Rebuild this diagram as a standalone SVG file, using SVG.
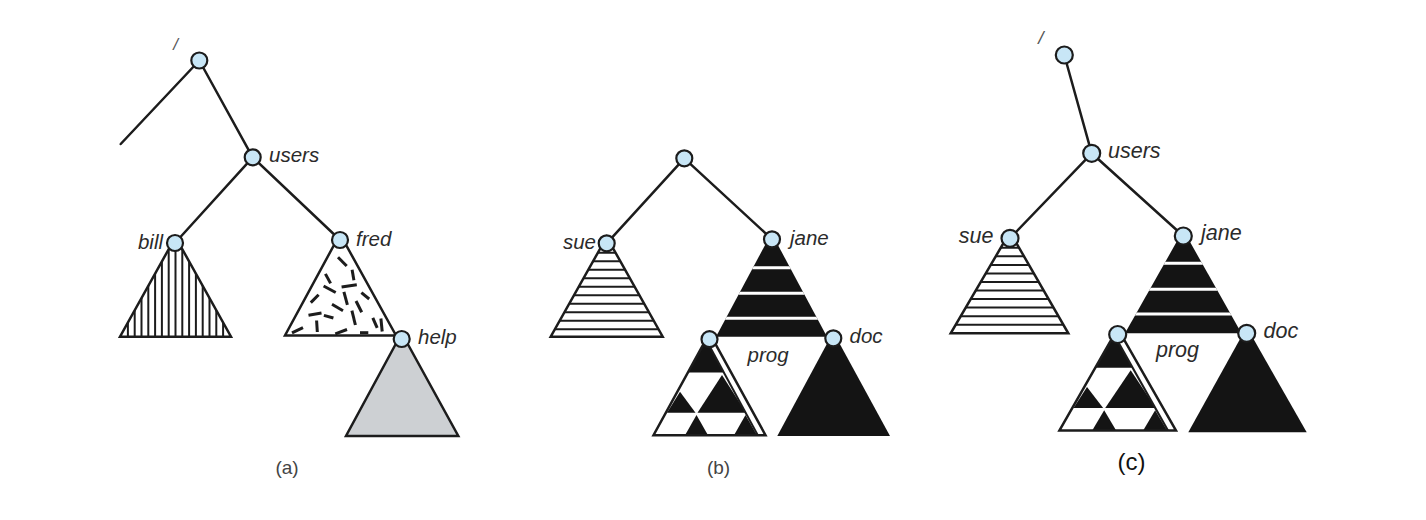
<svg xmlns="http://www.w3.org/2000/svg" xmlns:xlink="http://www.w3.org/1999/xlink" width="1426" height="520" viewBox="0 0 1426 520">
<style>
.edge{stroke:#1c1c1c;stroke-width:2.5;fill:none;stroke-linecap:round}
.tri{stroke:#1c1c1c;stroke-width:2.5;stroke-linejoin:miter}
.hatch{stroke:#1c1c1c;stroke-width:2}
.dash{stroke:#1c1c1c;stroke-width:3;stroke-linecap:butt}
.band{stroke:#ffffff;stroke-width:3}
.blk{fill:#141414}
.node{fill:#c8e6f6;stroke:#1c1c1c;stroke-width:2.2}
.lbl{font-family:"Liberation Sans",Arial,Helvetica,sans-serif;font-style:italic;font-size:20.5px;fill:#2b2b2b}
.lblc{font-family:"Liberation Sans",Arial,Helvetica,sans-serif;font-style:italic;font-size:21.5px;fill:#2b2b2b}
.cap{font-family:"Liberation Sans",Arial,Helvetica,sans-serif;font-size:19px;fill:#444444;text-anchor:middle}
.slash{font-family:"Liberation Sans",Arial,Helvetica,sans-serif;font-style:italic;fill:#555555;text-anchor:middle}
</style>
<defs>
<clipPath id="clipBill"><polygon points="175.5,237 120,336.7 231,336.7"/></clipPath>
<clipPath id="clipSueB"><polygon points="606.7,237 550.7,336.7 662.7,336.7"/></clipPath>
<clipPath id="clipSueC"><polygon points="1010,232 950.7,333.3 1068.3,333.3"/></clipPath>
<clipPath id="clipJaneB"><polygon points="771.5,233 716,336.7 827,336.7"/></clipPath>
<clipPath id="clipJaneC"><polygon points="1183.3,230 1125,333.3 1241.5,333.3"/></clipPath>
<g id="progTree">
<polygon points="0,-6 -56,96 56,96" fill="#ffffff"/>
<polygon class="blk" points="-3.5,0.4 -21.6,33.3 14.6,33.3"/>
<polygon class="blk" points="12.5,35.7 -12,73.5 36.6,73.5"/>
<polygon class="blk" points="-29.5,52.5 -42.5,73.5 -14,73.5"/>
<polygon class="blk" points="-13,75.7 -24.5,96 -1.5,96"/>
<polygon class="blk" points="36,75.7 24.5,96 47.5,96"/>
<line x1="-2" y1="3" x2="48.3" y2="96" stroke="#1c1c1c" stroke-width="2"/>
<polygon class="tri" points="0,-6 -56,96 56,96" fill="none"/>
</g>
</defs>
<rect width="1426" height="520" fill="#ffffff"/>

<g id="connectors">
<line class="edge" x1="199.3" y1="60.5" x2="120.7" y2="144"/>
<line class="edge" x1="199.3" y1="60.5" x2="252.7" y2="157.3"/>
<line class="edge" x1="252.7" y1="157.3" x2="175" y2="243"/>
<line class="edge" x1="252.7" y1="157.3" x2="340" y2="240"/>
<line class="edge" x1="684.3" y1="158.3" x2="606.7" y2="243.3"/>
<line class="edge" x1="684.3" y1="158.3" x2="772" y2="239.3"/>
<line class="edge" x1="1064.3" y1="55" x2="1091.7" y2="153.3"/>
<line class="edge" x1="1091.7" y1="153.3" x2="1010" y2="238.3"/>
<line class="edge" x1="1091.7" y1="153.3" x2="1183.3" y2="236"/>
</g>

<!-- (a) -->
<g id="a-root">
<text class="slash" x="175.5" y="50" font-size="17">/</text>
<circle class="node" cx="199.3" cy="60.5" r="8"/>
</g>
<g id="a-users">
<circle class="node" cx="252.7" cy="157.3" r="8"/>
<text class="lbl" x="269" y="162">users</text>
</g>
<g id="a-bill">
<polygon class="tri" points="175.5,237 120,336.7 231,336.7" fill="#ffffff"/>
<g clip-path="url(#clipBill)">
<line class="hatch" x1="127.9" y1="230" x2="127.9" y2="340"/>
<line class="hatch" x1="134.7" y1="230" x2="134.7" y2="340"/>
<line class="hatch" x1="141.5" y1="230" x2="141.5" y2="340"/>
<line class="hatch" x1="148.3" y1="230" x2="148.3" y2="340"/>
<line class="hatch" x1="155.1" y1="230" x2="155.1" y2="340"/>
<line class="hatch" x1="161.9" y1="230" x2="161.9" y2="340"/>
<line class="hatch" x1="168.7" y1="230" x2="168.7" y2="340"/>
<line class="hatch" x1="175.5" y1="230" x2="175.5" y2="340"/>
<line class="hatch" x1="182.3" y1="230" x2="182.3" y2="340"/>
<line class="hatch" x1="189.1" y1="230" x2="189.1" y2="340"/>
<line class="hatch" x1="195.9" y1="230" x2="195.9" y2="340"/>
<line class="hatch" x1="202.7" y1="230" x2="202.7" y2="340"/>
<line class="hatch" x1="209.5" y1="230" x2="209.5" y2="340"/>
<line class="hatch" x1="216.3" y1="230" x2="216.3" y2="340"/>
<line class="hatch" x1="223.1" y1="230" x2="223.1" y2="340"/>
</g>
<circle class="node" cx="175" cy="243" r="8"/>
<text class="lbl" x="163" y="249" text-anchor="end">bill</text>
</g>
<g id="a-fred">
<polygon class="tri" points="340,234 285,335.5 396,335.5" fill="#ffffff"/>
<g transform="translate(341,240)">
<line class="dash" x1="-3" y1="17.3" x2="5.7" y2="26"/>
<line class="dash" x1="11.1" y1="29.8" x2="12.9" y2="40.2"/>
<line class="dash" x1="-15.6" y1="33.9" x2="-10.4" y2="43.4"/>
<line class="dash" x1="-17.4" y1="46" x2="-5.3" y2="52.5"/>
<line class="dash" x1="0.6" y1="47" x2="15.8" y2="44.8"/>
<line class="dash" x1="20.4" y1="52.6" x2="28.2" y2="59"/>
<line class="dash" x1="2.9" y1="51.8" x2="6.4" y2="64.8"/>
<line class="dash" x1="-22.4" y1="54.8" x2="-30.2" y2="62.6"/>
<line class="dash" x1="-9" y1="64.3" x2="2" y2="70.8"/>
<line class="dash" x1="15" y1="61" x2="20.7" y2="72.3"/>
<line class="dash" x1="-32.5" y1="75.3" x2="-19.5" y2="73"/>
<line class="dash" x1="-17.1" y1="75.4" x2="-7.6" y2="78"/>
<line class="dash" x1="10.9" y1="70.7" x2="14.4" y2="85"/>
<line class="dash" x1="31.8" y1="77.9" x2="36.2" y2="87.9"/>
<line class="dash" x1="-24.4" y1="80.5" x2="-23.7" y2="92"/>
<line class="dash" x1="-49" y1="92.9" x2="-38" y2="87.7"/>
<line class="dash" x1="-5.7" y1="93.8" x2="6" y2="89.5"/>
<line class="dash" x1="19" y1="92.7" x2="27.3" y2="92.7" stroke-width="3.8"/>
<line class="dash" x1="39.9" y1="78.5" x2="41.2" y2="91.5"/>
</g>
<circle class="node" cx="340" cy="240" r="8"/>
<text class="lbl" x="356" y="245.5">fred</text>
</g>
<g id="a-help">
<polygon class="tri" points="401.7,333 346,436 458.3,436" fill="#cdd0d3"/>
<circle class="node" cx="401.7" cy="339" r="8"/>
<text class="lbl" x="418" y="344">help</text>
</g>
<text class="cap" x="287" y="474">(a)</text>

<!-- (b) -->
<g id="b-root">
<circle class="node" cx="684.3" cy="158.3" r="8"/>
</g>
<g id="b-sue">
<polygon class="tri" points="606.7,237 550.7,336.7 662.7,336.7" fill="#ffffff"/>
<g clip-path="url(#clipSueB)">
<line class="hatch" x1="545" y1="252.7" x2="670" y2="252.7"/>
<line class="hatch" x1="545" y1="261.2" x2="670" y2="261.2"/>
<line class="hatch" x1="545" y1="269.7" x2="670" y2="269.7"/>
<line class="hatch" x1="545" y1="278.2" x2="670" y2="278.2"/>
<line class="hatch" x1="545" y1="286.7" x2="670" y2="286.7"/>
<line class="hatch" x1="545" y1="295.2" x2="670" y2="295.2"/>
<line class="hatch" x1="545" y1="303.7" x2="670" y2="303.7"/>
<line class="hatch" x1="545" y1="312.2" x2="670" y2="312.2"/>
<line class="hatch" x1="545" y1="320.7" x2="670" y2="320.7"/>
<line class="hatch" x1="545" y1="329.2" x2="670" y2="329.2"/>
</g>
<circle class="node" cx="606.7" cy="243.3" r="8"/>
<text class="lbl" x="596" y="248.5" text-anchor="end">sue</text>
</g>
<g id="b-jane">
<polygon class="blk" points="771.5,233 716,336.7 827,336.7"/>
<g clip-path="url(#clipJaneB)">
<line class="band" x1="700" y1="267.7" x2="840" y2="267.7"/>
<line class="band" x1="700" y1="293.3" x2="840" y2="293.3"/>
<line class="band" x1="700" y1="318.3" x2="840" y2="318.3"/>
</g>
<circle class="node" cx="772" cy="239.3" r="8"/>
<text class="lbl" x="790" y="244.5">jane</text>
</g>
<g id="b-prog">
<use xlink:href="#progTree" transform="translate(709.5,339.2)"/>
<circle class="node" cx="709.5" cy="339.2" r="8"/>
<text class="lbl" x="747.5" y="361.7">prog</text>
</g>
<g id="b-doc">
<polygon class="blk" points="833.3,332 777.3,436 890,436"/>
<circle class="node" cx="833.3" cy="338.3" r="8"/>
<text class="lbl" x="849.5" y="343.3">doc</text>
</g>
<text class="cap" x="718.5" y="474">(b)</text>

<!-- (c) -->
<g id="c-root">
<text class="slash" x="1040.8" y="44" font-size="19">/</text>
<circle class="node" cx="1064.3" cy="55" r="8.5"/>
</g>
<g id="c-users">
<circle class="node" cx="1091.7" cy="153.3" r="8.5"/>
<text class="lblc" x="1108" y="157.5">users</text>
</g>
<g id="c-sue">
<polygon class="tri" points="1010,232 950.7,333.3 1068.3,333.3" fill="#ffffff"/>
<g clip-path="url(#clipSueC)">
<line class="hatch" x1="945" y1="247.8" x2="1075" y2="247.8"/>
<line class="hatch" x1="945" y1="256.3" x2="1075" y2="256.3"/>
<line class="hatch" x1="945" y1="264.9" x2="1075" y2="264.9"/>
<line class="hatch" x1="945" y1="273.4" x2="1075" y2="273.4"/>
<line class="hatch" x1="945" y1="282" x2="1075" y2="282"/>
<line class="hatch" x1="945" y1="290.5" x2="1075" y2="290.5"/>
<line class="hatch" x1="945" y1="299.1" x2="1075" y2="299.1"/>
<line class="hatch" x1="945" y1="307.6" x2="1075" y2="307.6"/>
<line class="hatch" x1="945" y1="316.2" x2="1075" y2="316.2"/>
<line class="hatch" x1="945" y1="324.7" x2="1075" y2="324.7"/>
</g>
<circle class="node" cx="1010" cy="238.3" r="8.5"/>
<text class="lblc" x="993.5" y="242.7" text-anchor="end">sue</text>
</g>
<g id="c-jane">
<polygon class="blk" points="1183.3,230 1125,333.3 1241.5,333.3"/>
<g clip-path="url(#clipJaneC)">
<line class="band" x1="1110" y1="263.3" x2="1255" y2="263.3"/>
<line class="band" x1="1110" y1="289.3" x2="1255" y2="289.3"/>
<line class="band" x1="1110" y1="314" x2="1255" y2="314"/>
</g>
<circle class="node" cx="1183.3" cy="236" r="8.5"/>
<text class="lblc" x="1201" y="240">jane</text>
</g>
<g id="c-prog">
<use xlink:href="#progTree" transform="translate(1117.7,334.5) scale(1.04,1)"/>
<circle class="node" cx="1117.7" cy="334.5" r="8.5"/>
<text class="lblc" x="1156" y="356.7">prog</text>
</g>
<g id="c-doc">
<polygon class="blk" points="1246.7,327 1188.3,432.3 1306.7,432.3"/>
<circle class="node" cx="1246.7" cy="333.3" r="8.5"/>
<text class="lblc" x="1263.5" y="338.3">doc</text>
</g>
<text x="1131.5" y="470" font-family="Liberation Sans, Arial, sans-serif" font-size="24" fill="#111111" text-anchor="middle">(c)</text>
</svg>
